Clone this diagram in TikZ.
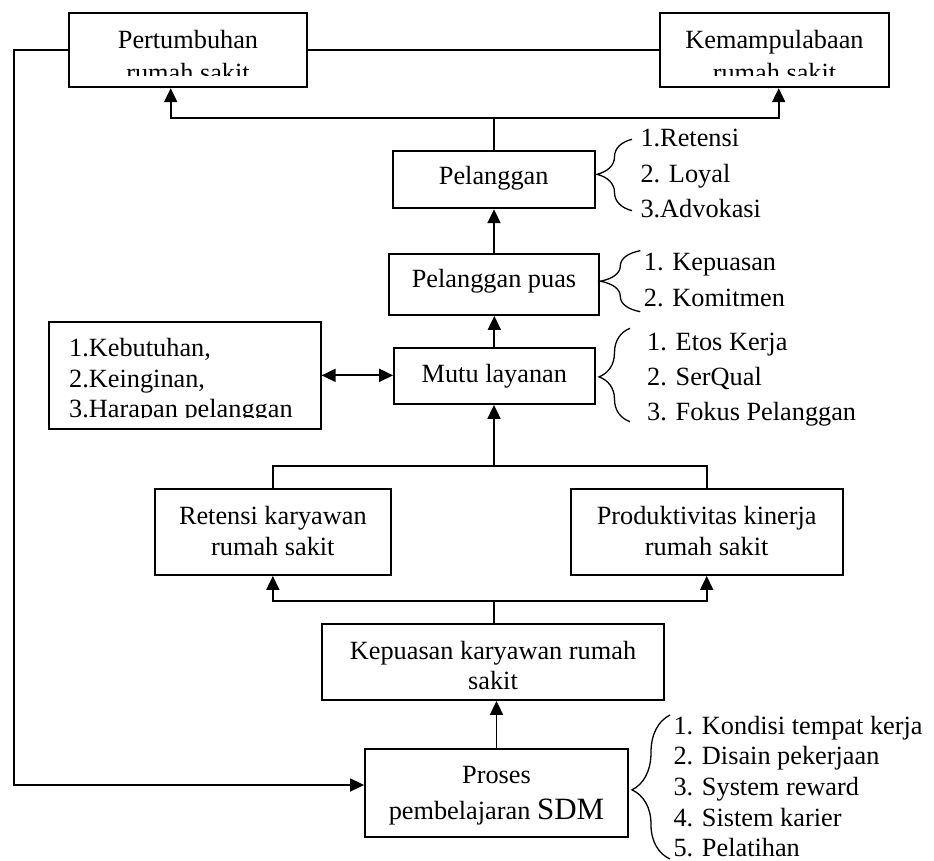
\documentclass[tikz,border=0pt]{standalone}
\usepackage{fontspec}
\setmainfont{Liberation Serif}
\usetikzlibrary{arrows.meta,decorations.pathreplacing}
\begin{document}
\begin{tikzpicture}[x=1pt,y=-1pt,
  txt/.style={inner sep=0pt, font=\fontsize{26.3}{30.5}\selectfont},
  box/.style={draw, line width=1.8pt, inner sep=0pt},
  conn/.style={line width=1.8pt},
  arr/.style={conn, -{Triangle[length=14pt,width=13pt]}},
  darr/.style={conn, {Triangle[length=14pt,width=13pt]}-{Triangle[length=14pt,width=13pt]}},
  brc/.style={line width=1.3pt, decorate, decoration={brace, amplitude=#1}},
  item/.style={txt, anchor=base west}]
\useasboundingbox (0,0) rectangle (934,861);

% ---------- boxes ----------
\node[box, minimum width=238pt, minimum height=74pt] (pert) at (188,50.3) {};
\node[box, minimum width=228.4pt, minimum height=74pt] (kem) at (774.5,50.3) {};
\node[box, minimum width=202pt, minimum height=57.6pt] (pel) at (493.7,179.5) {};
\node[box, minimum width=210.6pt, minimum height=60.7pt] (puas) at (494,284.65) {};
\node[box, minimum width=200.7pt, minimum height=56.3pt] (mutu) at (494.35,375.85) {};
\node[box, minimum width=272pt, minimum height=107.3pt] (keb) at (184.7,375.35) {};
\node[box, minimum width=235.7pt, minimum height=85.7pt] (ret) at (272.85,532.15) {};
\node[box, minimum width=272pt, minimum height=85.7pt] (prod) at (706.7,532.15) {};
\node[box, minimum width=342.6pt, minimum height=76pt] (kep) at (493,662) {};
\node[box, minimum width=263pt, minimum height=87.4pt] (pro) at (496.5,793) {};

% ---------- box texts ----------
\coordinate (cut1) at (0,76);
\coordinate (cut2) at (0,417.5);
\begin{scope}
  \clip (pert.north west) rectangle (pert.east |- cut1);
  \node[txt, anchor=north, align=center, font=\fontsize{26.3}{33}\selectfont] (tpert) at (188,28.3)
    {\rule{0pt}{20pt}Pertumbuhan\\rumah sakit};
\end{scope}
\begin{scope}
  \clip (kem.north west) rectangle (kem.east |- cut1);
  \node[txt, anchor=north, align=center, font=\fontsize{26.3}{33}\selectfont] (tkem) at (774.5,28.3)
    {\rule{0pt}{20pt}Kemampulabaan\\rumah sakit};
\end{scope}
\begin{scope}
  \clip (keb.north west) rectangle (keb.east |- cut2);
  \node[txt, anchor=north west, align=left, font=\fontsize{26.3}{30.5}\selectfont] (tkeb) at (69,336.7)
    {\rule{0pt}{20pt}1.Kebutuhan,\\2.Keinginan,\\3.Harapan pelanggan};
\end{scope}
\node[txt, anchor=base] (tpel) at (493.7,184.3) {Pelanggan};
\node[txt, anchor=base] (tpuas) at (494,287.3) {Pelanggan puas};
\node[txt, anchor=base] (tmutu) at (494.35,382.7) {Mutu layanan};
\node[txt, anchor=north, align=center, font=\fontsize{26.3}{31}\selectfont] (tret) at (272.85,504)
  {\rule{0pt}{20pt}Retensi karyawan\\rumah sakit};
\node[txt, anchor=north, align=center, font=\fontsize{26.3}{31}\selectfont] (tprod) at (706.7,504)
  {\rule{0pt}{20pt}Produktivitas kinerja\\rumah sakit};
\node[txt, anchor=north, align=center, font=\fontsize{26.3}{30}\selectfont] (tkep) at (493,639.3)
  {\rule{0pt}{20pt}Kepuasan karyawan rumah\\sakit};
\node[txt, anchor=north, align=center, font=\fontsize{26.3}{30.5}\selectfont] (tpro) at (496.5,763.5)
  {\rule{0pt}{20pt}Proses\\[5.3pt]pembelajaran {\fontsize{31}{31}\selectfont SDM}};

% ---------- connectors ----------
\draw[conn] (pert.east) -- (kem.west);
\coordinate (fbL) at (14,785);
\draw[arr] (pert.west) -| (fbL) -- (fbL -| pro.west);

\coordinate (jt) at (493.7,117.7);
\coordinate (jtl) at (170.7,117.7);
\coordinate (jtr) at (778.7,117.7);
\draw[conn] (pel.north) -- (jt);
\draw[arr] (jt) -- (jtl) -- (jtl |- pert.south);
\draw[arr] (jt) -- (jtr) -- (jtr |- kem.south);

\draw[arr] (puas.north) -- (puas.north |- pel.south);
\draw[arr] (mutu.north) -- (mutu.north |- puas.south);
\draw[darr] (keb.east) -- (keb.east -| mutu.west);

\coordinate (jm) at (494,465.7);
\draw[arr] (jm) -- (jm |- mutu.south);
\draw[conn] (ret.north) -- (ret.north |- jm) -- (prod.north |- jm) -- (prod.north);

\coordinate (jb) at (493.7,600.7);
\draw[conn] (kep.north -| jb) -- (jb);
\draw[arr] (jb) -- (jb -| ret.south) -- (ret.south);
\draw[arr] (jb) -- (jb -| prod.south) -- (prod.south);

\draw[arr] (pro.north) -- (pro.north |- kep.south);

% ---------- braces ----------
\coordinate (b1s) at (632,210.7);   \coordinate (b1e) at (632,139.3);
\coordinate (b2s) at (640.3,311.7); \coordinate (b2e) at (640.3,250.7);
\coordinate (b3s) at (630,421.7);   \coordinate (b3e) at (630,328.3);
\coordinate (b4s) at (670,859);     \coordinate (b4e) at (670,715);
\draw[brc=35pt, decoration={aspect=0.51}] (b1s) -- (b1e);
\draw[brc=40pt, decoration={aspect=0.50}] (b2s) -- (b2e);
\draw[brc=31pt, decoration={aspect=0.48}] (b3s) -- (b3e);
\draw[brc=38pt, decoration={aspect=0.48}] (b4s) -- (b4e);

% ---------- lists ----------
\node[item] (l11) at (640.3,146.7) {1.Retensi};
\node[item] (l12) at (640.3,182.7) {2. Loyal};
\node[item] (l13) at (640.3,217.3) {3.Advokasi};

\node[item] (l21) at (643.7,270.7) {1. Kepuasan};
\node[item] (l22) at (643.7,306) {2. Komitmen};

\node[item] (l31) at (647,350.7) {1. Etos Kerja};
\node[item] (l32) at (647,385.7) {2. SerQual};
\node[item] (l33) at (647,420.7) {3. Fokus Pelanggan};

\node[item] (l41) at (673.3,734) {1. Kondisi tempat kerja};
\node[item] (l42) at (673.3,764.7) {2. Disain pekerjaan};
\node[item] (l43) at (673.3,795.4) {3. System reward};
\node[item] (l44) at (673.3,826.1) {4. Sistem karier};
\node[item] (l45) at (673.3,856.8) {5. Pelatihan};
\end{tikzpicture}
\end{document}
